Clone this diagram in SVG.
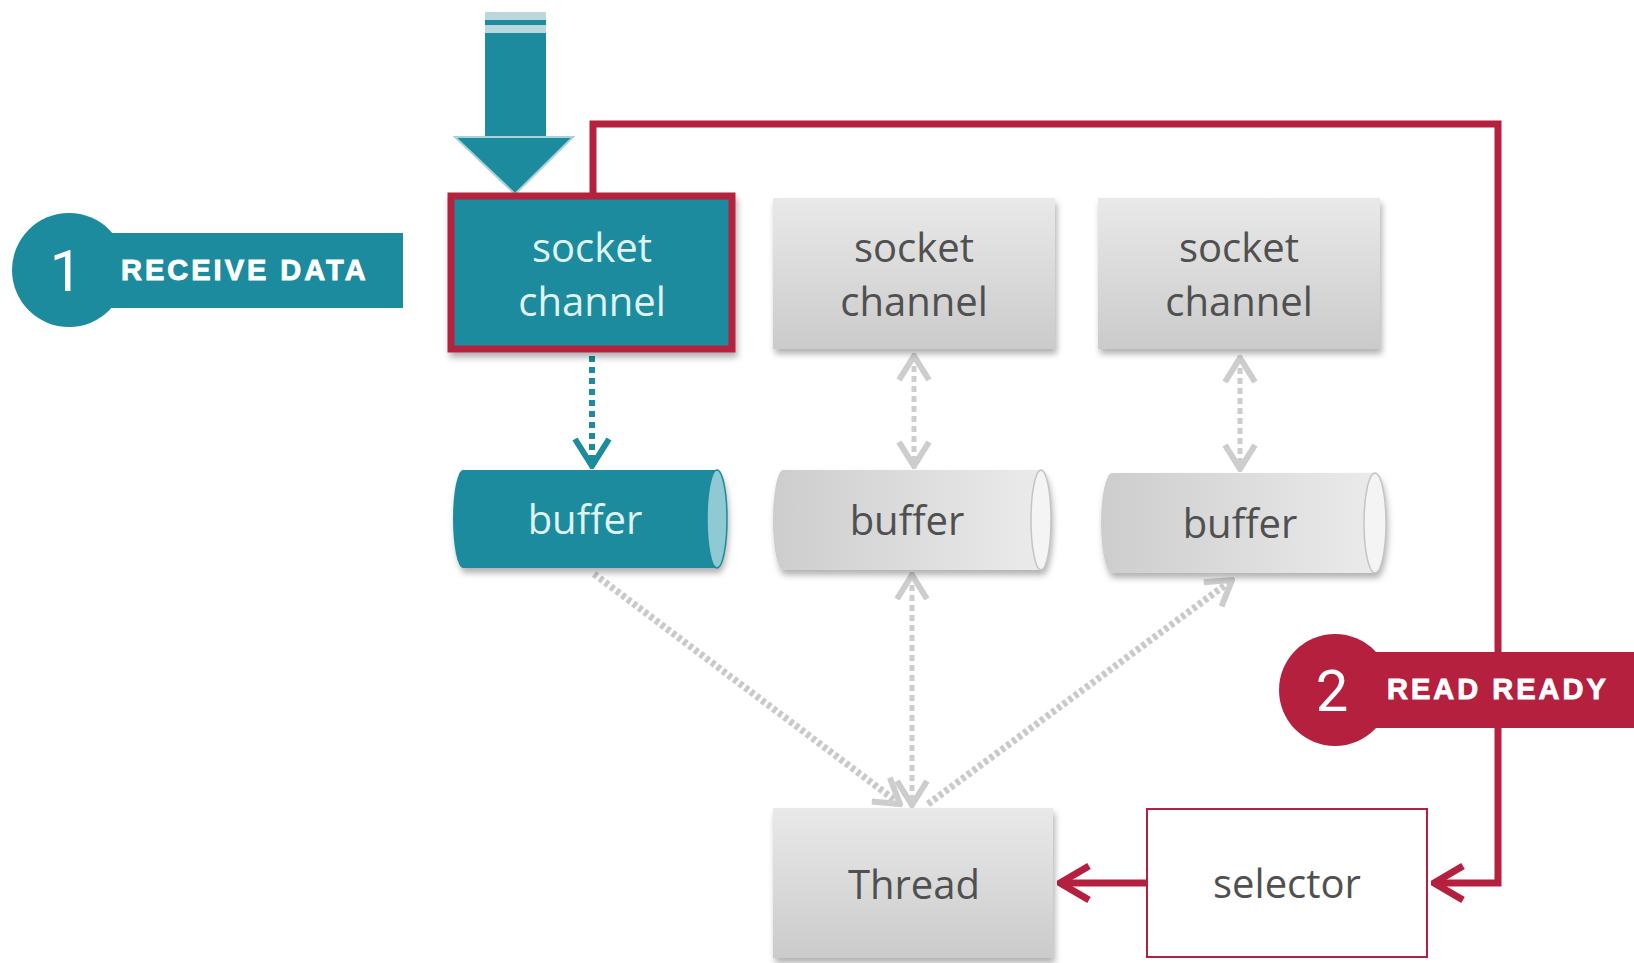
<svg xmlns="http://www.w3.org/2000/svg" width="1634" height="963" viewBox="0 0 1634 963">
<style>
.node{font-family:"Open Sans","DejaVu Sans",sans-serif;font-size:40px;text-anchor:middle}
.lt{fill:#dff3f4}
.dk{fill:#505050}
.badge{font-family:"Liberation Sans",Arial,sans-serif;font-weight:bold;font-size:29px;letter-spacing:3px;fill:#ffffff;stroke:#ffffff;stroke-width:0.9}
.digit{font-family:Roboto,"Liberation Sans",sans-serif;font-size:58px;fill:#ffffff;text-anchor:middle}
.grey{fill:none;stroke:#cdcdcd;stroke-width:5;stroke-dasharray:6 4}
.diag{fill:none;stroke:#c9c9c9;stroke-width:7;stroke-dasharray:4 3}
.red{fill:none;stroke:#b4203e;stroke-width:7}
</style>
<defs>
<linearGradient id="gBox" x1="0" y1="0" x2="0" y2="1">
<stop offset="0" stop-color="#e9e9e9"/>
<stop offset="1" stop-color="#cbcbcb"/>
</linearGradient>
<linearGradient id="gBuf" x1="0" y1="0" x2="1" y2="0">
<stop offset="0" stop-color="#cdcdcd"/>
<stop offset="1" stop-color="#ececec"/>
</linearGradient>
<filter id="sh" x="-10%" y="-10%" width="125%" height="130%">
<feDropShadow dx="2" dy="5" stdDeviation="3" flood-color="#000" flood-opacity="0.3"/>
</filter>
<marker id="mGrey" markerUnits="userSpaceOnUse" viewBox="0 0 30 36" refX="27" refY="18" markerWidth="30" markerHeight="36" orient="auto-start-reverse">
<path d="M3,3 L27,18 L3,33" fill="none" stroke="#cdcdcd" stroke-width="6" stroke-dasharray="none"/>
</marker>
<marker id="mRed" markerUnits="userSpaceOnUse" viewBox="0 0 36 40" refX="33" refY="20" markerWidth="36" markerHeight="40" orient="auto">
<path d="M4,3 L33,20 L4,37" fill="none" stroke="#b4203e" stroke-width="7"/>
</marker>
<marker id="mTeal" markerUnits="userSpaceOnUse" viewBox="0 0 34 40" refX="31" refY="20" markerWidth="34" markerHeight="40" orient="auto">
<path d="M4,3 L31,20 L4,37" fill="none" stroke="#1c8b9e" stroke-width="6" stroke-dasharray="none"/>
</marker>
</defs>

<g id="connectors">
<path class="red" d="M593,193 V124 H1498 V883 H1434" marker-end="url(#mRed)"/>
<path class="red" d="M1146,883 H1060" marker-end="url(#mRed)"/>
<path d="M592,356 V466" fill="none" stroke="#1c8b9e" stroke-width="6" stroke-dasharray="6 5" marker-end="url(#mTeal)"/>
<path class="grey" d="M914,356 V466" marker-start="url(#mGrey)" marker-end="url(#mGrey)"/>
<path class="grey" d="M1240,358 V469" marker-start="url(#mGrey)" marker-end="url(#mGrey)"/>
<path class="grey" d="M912,575 V805" marker-start="url(#mGrey)" marker-end="url(#mGrey)"/>
<path class="diag" d="M594,574 L900,804" marker-end="url(#mGrey)"/>
<path class="diag" d="M928,804 L1232,580" marker-end="url(#mGrey)"/>
</g>

<g id="input-arrow">
<rect x="485" y="12" width="61" height="8" fill="#b9d7dc"/>
<rect x="485" y="20" width="61" height="5" fill="#1c8b9e"/>
<rect x="485" y="25" width="61" height="8" fill="#b9d7dc"/>
<rect x="485" y="33" width="61" height="106" fill="#1c8b9e"/>
<path d="M455,137 H573 L515,194 Z" fill="#1c8b9e" stroke="#a9d2d8" stroke-width="2"/>
</g>

<g id="socket1">
<rect x="451" y="196" width="281" height="153" fill="#1c8b9e" stroke="#b4203e" stroke-width="7" filter="url(#sh)"/>
<text class="node lt" x="592" y="262">socket</text>
<text class="node lt" x="592" y="316">channel</text>
</g>
<g id="socket2">
<rect x="773" y="198" width="282" height="151" fill="url(#gBox)" filter="url(#sh)"/>
<text class="node dk" x="914" y="262">socket</text>
<text class="node dk" x="914" y="316">channel</text>
</g>
<g id="socket3">
<rect x="1098" y="198" width="282" height="151" fill="url(#gBox)" filter="url(#sh)"/>
<text class="node dk" x="1239" y="262">socket</text>
<text class="node dk" x="1239" y="316">channel</text>
</g>

<g id="buffer1">
<path d="M463,470 H717 A10,49 0 0 1 717,568 H463 A10,49 0 0 1 463,470 Z" fill="#1c8b9e" filter="url(#sh)"/>
<ellipse cx="717" cy="519" rx="10" ry="49" fill="#8fcad4" stroke="#1c8b9e" stroke-width="1.5"/>
<text class="node lt" x="585" y="534">buffer</text>
</g>
<g id="buffer2">
<path d="M783,470 H1041 A10,50 0 0 1 1041,570 H783 A10,50 0 0 1 783,470 Z" fill="url(#gBuf)" filter="url(#sh)"/>
<ellipse cx="1041" cy="520" rx="10" ry="50" fill="#f4f4f4" stroke="#c4c4c4" stroke-width="1.5"/>
<text class="node dk" x="907" y="535">buffer</text>
</g>
<g id="buffer3">
<path d="M1112,473 H1375 A11,50 0 0 1 1375,573 H1112 A11,50 0 0 1 1112,473 Z" fill="url(#gBuf)" filter="url(#sh)"/>
<ellipse cx="1375" cy="523" rx="11" ry="50" fill="#f4f4f4" stroke="#c4c4c4" stroke-width="1.5"/>
<text class="node dk" x="1240" y="538">buffer</text>
</g>

<g id="thread">
<rect x="773" y="808" width="280" height="150" fill="url(#gBox)" filter="url(#sh)"/>
<text class="node dk" x="914" y="899">Thread</text>
</g>
<g id="selector">
<rect x="1147" y="809" width="280" height="148" fill="#ffffff" stroke="#b4203e" stroke-width="2"/>
<text class="node dk" x="1287" y="898">selector</text>
</g>

<g id="badge1">
<rect x="68" y="233" width="335" height="75" fill="#1c8b9e"/>
<circle cx="69" cy="270" r="57" fill="#1c8b9e"/>
<text class="digit" x="66" y="291">1</text>
<text class="badge" x="121" y="280">RECEIVE DATA</text>
</g>
<g id="badge2">
<rect x="1330" y="652" width="304" height="76" fill="#b4203e"/>
<circle cx="1335" cy="690" r="56" fill="#b4203e"/>
<text class="digit" x="1332" y="711">2</text>
<text class="badge" x="1387" y="699">READ READY</text>
</g>
</svg>
